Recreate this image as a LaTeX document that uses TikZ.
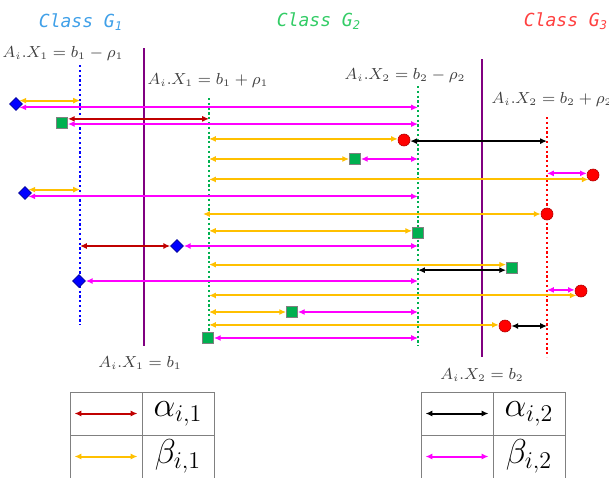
\documentclass[tikz,border=0pt]{standalone}
\usepackage{fontspec}
\newfontfamily\classfont{DejaVu Sans Mono}
\usetikzlibrary{shapes.geometric,arrows.meta,calc}

\definecolor{gone}{RGB}{64,160,232}
\definecolor{gtwo}{RGB}{51,204,102}
\definecolor{gthree}{RGB}{255,64,64}
\definecolor{lblue}{RGB}{0,0,255}
\definecolor{lpurple}{RGB}{128,0,128}
\definecolor{lgreen}{RGB}{0,176,80}
\definecolor{lred}{RGB}{255,0,0}
\definecolor{amag}{RGB}{255,0,255}
\definecolor{ayel}{RGB}{255,192,0}
\definecolor{adred}{RGB}{192,0,0}
\definecolor{labgray}{RGB}{64,64,64}

\begin{document}
\begin{tikzpicture}[x=0.5pt,y=-0.5pt,
  bound/.style={line width=1.3pt,dash pattern=on 1.1pt off 1.3pt},
  sepline/.style={line width=1.3pt,lpurple},
  arr/.style={line width=1pt,{Latex[length=3.4pt,width=3pt]}-{Latex[length=3.4pt,width=3pt]}},
  alphaone/.style={arr,adred},
  betaone/.style={arr,ayel},
  alphatwo/.style={arr,black},
  betatwo/.style={arr,amag},
  dmd/.style={diamond,draw=blue!60!black,fill=lblue,inner sep=0pt,minimum size=6.5pt,line width=0.3pt},
  sqr/.style={rectangle,draw=gray,fill=lgreen,inner sep=0pt,minimum size=5.5pt,line width=0.4pt},
  crc/.style={circle,draw=red!70!black,fill=lred,inner sep=0pt,minimum size=6pt,line width=0.3pt},
  lab/.style={text=labgray,font=\fontsize{7.6}{9}\selectfont,inner sep=0pt},
  cls/.style={font=\classfont\itshape\fontsize{9}{11}\selectfont,inner sep=0pt},
  cell/.style={draw=gray,line width=0.5pt,minimum width=36pt,minimum height=21.5pt,inner sep=0pt,
    font=\fontsize{16.5}{18}\selectfont}
]
\useasboundingbox (0,0) rectangle (609,477);

\node[cls,text=gone] (gclass1) at (81,22) {Class G\textsubscript{1}};
\node[cls,text=gtwo] (gclass2) at (319,21) {Class G\textsubscript{2}};
\node[cls,text=gthree] (gclass3) at (566,21) {Class G\textsubscript{3}};

\draw[bound,lblue] (80,65) coordinate (bl) -- (80,325);
\draw[sepline] (144,48) coordinate (pl) -- (144,346);
\draw[bound,lgreen] (209,98) coordinate (gl) -- (209,338);
\draw[bound,lgreen] (418,86) coordinate (gr) -- (418,346);
\draw[sepline] (482,59) coordinate (pr) -- (482,357);
\draw[bound,lred] (547,117) coordinate (rr) -- (547,357);

\node[lab] (lone1) at (63,53) {$A_i.X_1=b_1-\rho_1$};
\node[lab] (lone2) at (208,80) {$A_i.X_1=b_1+\rho_1$};
\node[lab] (ltwo1) at (405,75) {$A_i.X_2=b_2-\rho_2$};
\node[lab] (ltwo2) at (552,99) {$A_i.X_2=b_2+\rho_2$};
\node[lab] (lone0) at (140,363) {$A_i.X_1=b_1$};
\node[lab] (ltwo0) at (482,375) {$A_i.X_2=b_2$};

\node[dmd] (d1) at (16,104) {};
\node[dmd] (d2) at (25,193) {};
\node[dmd] (d3) at (177,246) {};
\node[dmd] (d4) at (79,281) {};
\node[sqr] (s1) at (62,123) {};
\node[sqr] (s2) at (355,159) {};
\node[sqr] (s3) at (418,233) {};
\node[sqr] (s4) at (512,268) {};
\node[sqr] (s5) at (292,312) {};
\node[sqr] (s6) at (208,338) {};
\node[crc] (c1) at (404,140) {};
\node[crc] (c2) at (593,175) {};
\node[crc] (c3) at (547,214) {};
\node[crc] (c4) at (581,291) {};
\node[crc] (c5) at (505,326) {};

\draw[betaone] (d1.north east) -- (d1.north east -| bl);
\draw[betatwo] (d1.south east) -- (d1.south east -| gr);
\draw[alphaone] (s1.35) -- (s1.35 -| gl);
\draw[betatwo] (s1.-10) -- (s1.-10 -| gr);
\draw[betaone] (c1.170 -| gl) -- (c1.170);
\draw[alphatwo] (c1.-10) -- (c1.-10 -| rr);
\draw[betaone] (s2.west -| gl) -- (s2.west);
\draw[betatwo] (s2.east) -- (s2.east -| gr);
\draw[betatwo] (c2.165 -| rr) -- (c2.165);
\draw[betaone] (c2.225 -| gl) -- (c2.225);
\draw[betaone] (d2.north east) -- (d2.north east -| bl);
\draw[betatwo] (d2.south east) -- (d2.south east -| gr);
\draw[betaone] ($(c3.west -| gl)+(-6,0)$) -- (c3.west);
\draw[betaone] (s3.160 -| gl) -- (s3.160);
\draw[alphaone] (d3.west -| bl) -- (d3.west);
\draw[betatwo] (d3.east) -- (d3.east -| gr);
\draw[betaone] (s4.150 -| gl) -- (s4.150);
\draw[alphatwo] (s4.200) -- (s4.200 -| gr);
\draw[betatwo] (d4.east) -- (d4.east -| gr);
\draw[betatwo] (c4.170 -| rr) -- (c4.170);
\draw[betaone] (c4.225 -| gl) -- (c4.225);
\draw[betaone] (s5.west -| gl) -- (s5.west);
\draw[betatwo] (s5.east) -- (s5.east -| gr);
\draw[betaone] (c5.170 -| gl) -- (c5.170);
\draw[alphatwo] (c5.east) -- (c5.east -| rr);
\draw[betatwo] (s6.east) -- (s6.east -| gr);

\node[cell] (k11) at (106,413.5) {};
\node[cell] (k12) at (178,413.5) {$\alpha_{i,1}$};
\node[cell] (k21) at (106,456.5) {};
\node[cell] (k22) at (178,456.5) {$\beta_{i,1}$};
\node[cell] (r11) at (457,413.5) {};
\node[cell] (r12) at (529,413.5) {$\alpha_{i,2}$};
\node[cell] (r21) at (457,456.5) {};
\node[cell] (r22) at (529,456.5) {$\beta_{i,2}$};
\draw[alphaone,shorten <=2.5pt,shorten >=2.5pt] (k11.west) -- (k11.east);
\draw[betaone,shorten <=2.5pt,shorten >=2.5pt] (k21.west) -- (k21.east);
\draw[alphatwo,shorten <=2.5pt,shorten >=2.5pt] (r11.west) -- (r11.east);
\draw[betatwo,shorten <=2.5pt,shorten >=2.5pt] (r21.west) -- (r21.east);

\end{tikzpicture}
\end{document}
